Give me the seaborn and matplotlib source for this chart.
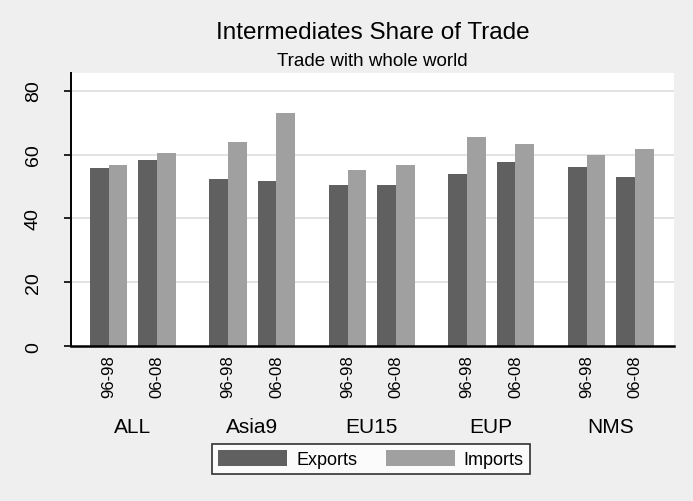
import matplotlib
matplotlib.use("Agg")
import matplotlib.pyplot as plt
import seaborn as sns
import pandas as pd
import numpy as np

# ---- data ----
groups = ["ALL", "Asia9", "EU15", "EUP", "NMS"]
periods = ["96-98", "06-08"]
exports = [55.7, 58.4, 52.3, 51.6, 50.6, 50.6, 53.9, 57.8, 56.1, 52.9]
imports = [56.7, 60.5, 63.9, 72.9, 55.1, 56.6, 65.6, 63.3, 60.0, 61.7]
flows = ["Exports", "Imports"]
colors = ["#606060", "#a0a0a0"]

# ---- layout (positions of each group/period slot) ----
GROUP_STEP = 2.474
rows = []
tick_pos, tick_lab = [], []
for gi, g in enumerate(groups):
    for pi, p in enumerate(periods):
        k = gi * len(periods) + pi
        pos = gi * GROUP_STEP + pi
        tick_pos.append(pos)
        tick_lab.append(p)
        rows.append({"pos": pos, "flow": "Exports", "value": exports[k]})
        rows.append({"pos": pos, "flow": "Imports", "value": imports[k]})
df = pd.DataFrame(rows)

sns.set_theme(style="white")
plt.rcParams["font.family"] = ["Liberation Sans", "DejaVu Sans"]
plt.rcParams["text.color"] = "black"
plt.rcParams["xtick.color"] = "black"
plt.rcParams["ytick.color"] = "black"
plt.rcParams["axes.labelcolor"] = "black"

BG = "#efefef"
fig = plt.figure(figsize=(6.93, 5.02), dpi=100, facecolor=BG)
W, H = 693, 502
L, R, T, B = 71, 674, 74, 347.3
ax = fig.add_axes([L / W, 1 - B / H, (R - L) / W, (B - T) / H])
ax.set_facecolor("white")

sns.barplot(data=df, x="pos", y="value", hue="flow", hue_order=flows,
            palette=colors, native_scale=True, width=0.776, dodge=True,
            saturation=1, linewidth=0, errorbar=None, ax=ax, legend=False)

ax.set_ylim(0, 85.5)
ax.set_xlim(tick_pos[0] - 0.78, tick_pos[-1] + 0.81)
ax.set_yticks([0, 20, 40, 60, 80])
ax.set_yticklabels(["0", "20", "40", "60", "80"], rotation=90, va="center",
                   fontsize=14)
ax.tick_params(axis="y", length=5, width=1.2, color="black", labelcolor="black",
               pad=16, left=True)
ax.set_xticks(tick_pos)
ax.set_xticklabels(tick_lab, rotation=90, fontsize=12)
ax.tick_params(axis="x", length=0, pad=6, labelcolor="black")
ax.set_xlabel("")
ax.set_ylabel("")

for y in [20, 40, 60, 80]:
    ax.axhline(y, color="#e3e3e3", lw=1.4, zorder=0)

for s in ["top", "right"]:
    ax.spines[s].set_visible(False)
ax.spines["left"].set_color("black")
ax.spines["left"].set_linewidth(1.4)
ax.spines["bottom"].set_color("black")
ax.spines["bottom"].set_linewidth(1.8)

# group labels
trans = matplotlib.transforms.blended_transform_factory(ax.transData, ax.transAxes)
for gi, g in enumerate(groups):
    c = (tick_pos[2 * gi] + tick_pos[2 * gi + 1]) / 2
    ax.text(c, -0.295, g, transform=trans, ha="center", va="center",
            fontsize=15, color="black")

cx = (L + R) / 2 / W
fig.text(cx, 1 - 33 / H, "Intermediates Share of Trade", ha="center",
         va="center", fontsize=17.5, color="black")
fig.text(cx, 1 - 62 / H, "Trade with whole world", ha="center",
         va="center", fontsize=13.5, color="black")

handles = [matplotlib.patches.Patch(facecolor=c, edgecolor="none") for c in colors]
leg = fig.legend(handles, flows, loc="center", bbox_to_anchor=(371 / W, 1 - 460 / H),
                 ncol=2, fontsize=13, frameon=True, fancybox=False,
                 handlelength=3.8, handleheight=0.95, columnspacing=1.6,
                 handletextpad=0.5, borderpad=0.35, labelcolor="black")
leg.get_frame().set_edgecolor("black")
leg.get_frame().set_linewidth(1.2)
leg.get_frame().set_facecolor("white")

fig.savefig("out.png", dpi=100, facecolor=BG)
